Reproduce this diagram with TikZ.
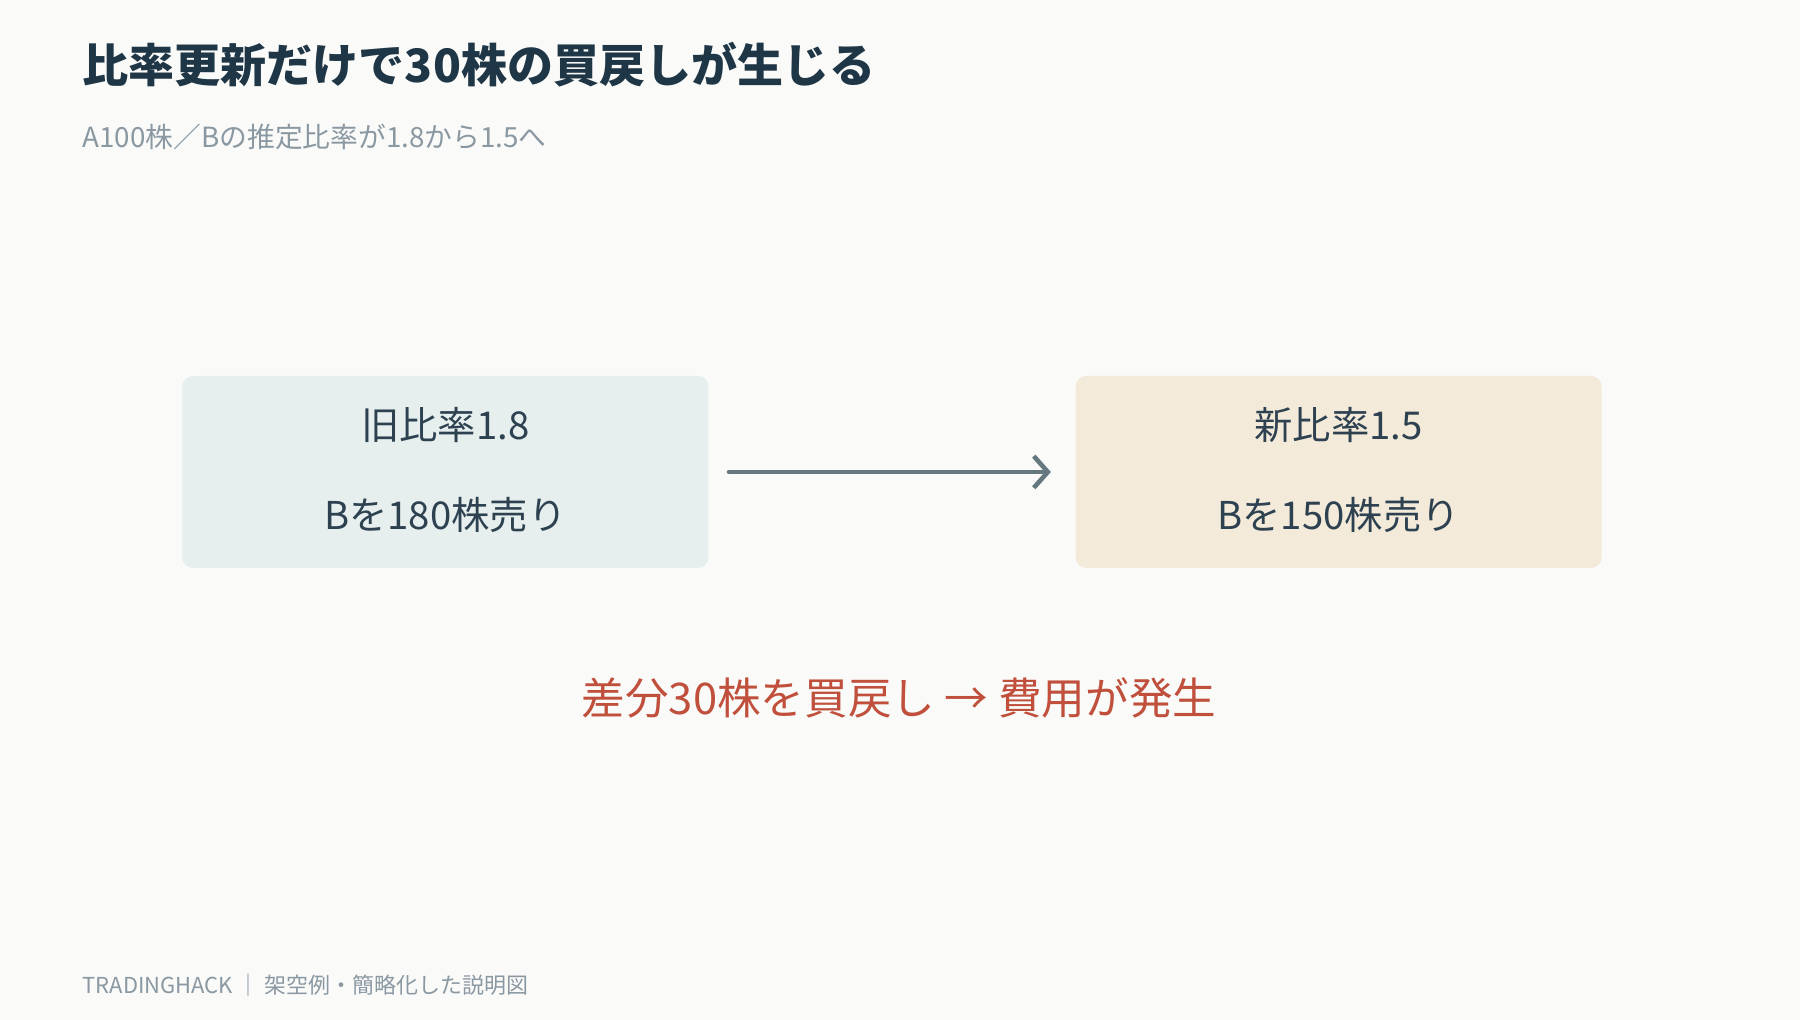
\documentclass[tikz,border=0pt]{standalone}
\usepackage{fontspec}
\setmainfont{Noto Sans CJK JP}
\usetikzlibrary{arrows.meta}
\definecolor{bg}{HTML}{FAFAF9}
\definecolor{ink}{HTML}{2D4150}
\definecolor{titlec}{HTML}{1E3646}
\definecolor{sub}{HTML}{8A98A2}
\definecolor{boxA}{HTML}{E6EFEE}
\definecolor{boxB}{HTML}{F3EAD9}
\definecolor{arr}{HTML}{66787F}
\definecolor{redc}{HTML}{C0503C}
\tikzset{box/.style={rounded corners=3pt,minimum width=5.26cm,minimum height=1.92cm,inner sep=0},
 btxt/.style={text=ink,font=\fontsize{10.9pt}{12pt}\selectfont}}
\begin{document}
\begin{tikzpicture}
\fill[bg] (0,0) rectangle (18,10.2);
\useasboundingbox (0,0) rectangle (18,10.2);
\node[anchor=west,inner sep=0,text=titlec,font=\bfseries\fontsize{13.1pt}{14pt}\selectfont] (title) at (0.82,9.55) {比率更新だけで30株の買戻しが生じる};
\node[anchor=west,inner sep=0,text=sub,font=\fontsize{7.9pt}{9pt}\selectfont] (subt) at (0.82,8.83) {A100株／Bの推定比率が1.8から1.5へ};
\node[box,fill=boxA] (L) at (4.453,5.48) {};
\node[box,fill=boxB] (R) at (13.386,5.48) {};
\node[btxt] (l1) at (4.453,5.95) {旧比率1.8};
\node[btxt] (l2) at (4.453,5.05) {Bを180株売り};
\node[btxt] (r1) at (13.386,5.95) {新比率1.5};
\node[btxt] (r2) at (13.386,5.05) {Bを150株売り};
\draw[arr,line width=1.3pt,line cap=round,-{Straight Barb[length=4pt,width=9pt,line width=1.3pt]}] ([xshift=0.2cm]L.east) -- ([xshift=-0.24cm]R.west);
\node[text=redc,font=\fontsize{12.4pt}{14pt}\selectfont] (note) at (8.99,3.22) {差分30株を買戻し → 費用が発生};
\node[anchor=west,inner sep=0,text=sub,font=\fontsize{6.25pt}{7pt}\selectfont] (foot) at (0.82,0.35) {TRADINGHACK ｜ 架空例・簡略化した説明図};
\end{tikzpicture}
\end{document}
